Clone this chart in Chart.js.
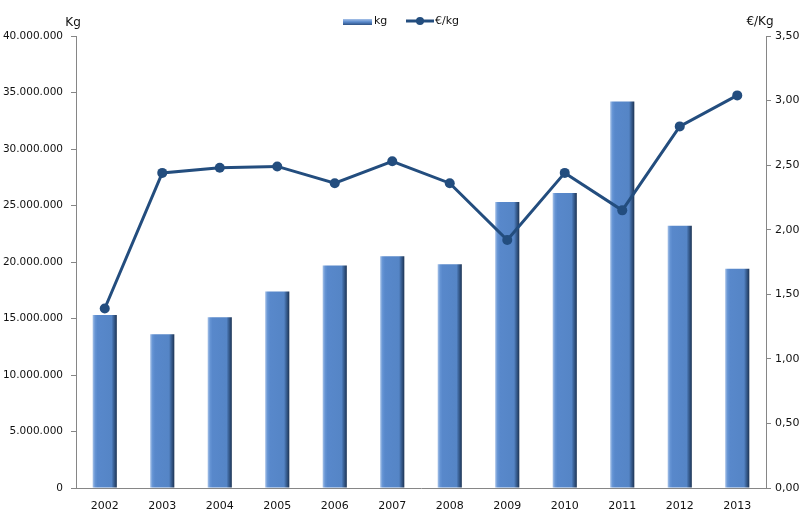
<!DOCTYPE html>
<html>
<head>
<meta charset="utf-8">
<script src="https://cdn.jsdelivr.net/npm/chart.js@4/dist/chart.umd.min.js"></script>
<style>
  html, body { margin: 0; padding: 0; background: #fff; }
  #wrap { width: 802px; height: 528px; position: relative; }
</style>
</head>
<body>
<div id="wrap"><canvas id="c"></canvas></div>
<script>
// data
var years = ['2002', '2003', '2004', '2005', '2006', '2007', '2008', '2009', '2010', '2011', '2012', '2013'];
var kg = [15300000, 13600000, 15100000, 17400000, 19700000, 20500000, 19800000, 25300000, 26100000, 34200000, 23200000, 19400000];
var euroPerKg = [1.39, 2.44, 2.48, 2.49, 2.36, 2.53, 2.36, 1.92, 2.44, 2.15, 2.80, 3.04];

var FONT = 'DejaVu Sans';
var LINE_COLOR = '#234d7e';
var AXIS_COLOR = '#868686';
var CAT_PCT = 0.5, BAR_PCT = 0.84;

function thousands(v) {
    return String(Math.round(v)).replace(/\B(?=(\d{3})+(?!\d))/g, '.');
}

function barFill(ctx) {
    var chart = ctx.chart;
    var xs = chart.scales && chart.scales.x;
    if (!xs || !isFinite(xs.width) || ctx.dataIndex === undefined) return '#5586c8';
    var cx = xs.getPixelForValue(ctx.dataIndex);
    var w = CAT_PCT * BAR_PCT * xs.width / years.length;
    if (!isFinite(cx)) return '#5586c8';
    var g = chart.ctx.createLinearGradient(cx - w / 2, 0, cx + w / 2, 0);
    g.addColorStop(0, '#a7c2e8');
    g.addColorStop(0.1, '#6594d4');
    g.addColorStop(0.2, '#5888cb');
    g.addColorStop(0.78, '#5585c6');
    g.addColorStop(0.86, '#3d659b');
    g.addColorStop(1, '#1d3454');
    return g;
}

// axis titles and legend
var decor = {
    id: 'decor',
    afterDraw: function (chart) {
        var c = chart.ctx;
        c.save();
        c.fillStyle = '#111';
        c.textBaseline = 'middle';
        c.font = '12px ' + FONT;
        c.textAlign = 'center';
        c.fillText('Kg', 73, 23);
        c.fillText('€/Kg', 760, 22);

        c.font = '11px ' + FONT;
        c.textAlign = 'left';
        var g = c.createLinearGradient(0, 19, 0, 25);
        g.addColorStop(0, '#a7c2e8');
        g.addColorStop(0.5, '#5888cb');
        g.addColorStop(1, '#2f5283');
        c.fillStyle = g;
        c.fillRect(343, 19, 29, 6);
        c.fillStyle = '#111';
        c.fillText('kg', 374, 21);

        c.strokeStyle = LINE_COLOR;
        c.lineWidth = 3;
        c.beginPath();
        c.moveTo(406, 21);
        c.lineTo(434, 21);
        c.stroke();
        c.fillStyle = LINE_COLOR;
        c.beginPath();
        c.arc(420, 21, 4, 0, Math.PI * 2);
        c.fill();
        c.fillStyle = '#111';
        c.fillText('€/kg', 435, 21);
        c.restore();
    }
};

new Chart(document.getElementById('c'), {
    data: {
        labels: years,
        datasets: [
            {
                type: 'line',
                label: '€/kg',
                data: euroPerKg,
                yAxisID: 'y1',
                borderColor: LINE_COLOR,
                backgroundColor: LINE_COLOR,
                borderWidth: 3,
                pointRadius: 5,
                pointBackgroundColor: LINE_COLOR,
                pointBorderWidth: 0,
                tension: 0,
                order: 0
            },
            {
                type: 'bar',
                label: 'kg',
                data: kg,
                yAxisID: 'y',
                backgroundColor: barFill,
                borderWidth: 0,
                categoryPercentage: CAT_PCT,
                barPercentage: BAR_PCT,
                order: 1
            }
        ]
    },
    options: {
        responsive: true,
        maintainAspectRatio: false,
        animation: false,
        layout: { padding: { top: 36, left: 0, right: 0, bottom: 0 } },
        plugins: { legend: { display: false }, tooltip: { enabled: false } },
        scales: {
            x: {
                grid: { display: false },
                border: { display: true, color: AXIS_COLOR, width: 1 },
                ticks: { color: '#111', font: { family: FONT, size: 11 }, padding: 4 },
                afterFit: function (s) { s.height = 40; }
            },
            y: {
                position: 'left',
                min: 0,
                max: 40000000,
                grid: { display: true, drawOnChartArea: false, drawTicks: true, tickLength: 5, color: AXIS_COLOR },
                border: { display: true, color: AXIS_COLOR, width: 1 },
                ticks: {
                    stepSize: 5000000,
                    color: '#111',
                    font: { family: FONT, size: 10.5 },
                    padding: 8,
                    callback: function (v) { return thousands(v); }
                },
                afterFit: function (s) { s.width = 76; }
            },
            y1: {
                position: 'right',
                min: 0,
                max: 3.5,
                grid: { display: true, drawOnChartArea: false, drawTicks: true, tickLength: 5, color: AXIS_COLOR },
                border: { display: true, color: AXIS_COLOR, width: 1 },
                ticks: {
                    stepSize: 0.5,
                    color: '#111',
                    font: { family: FONT, size: 11 },
                    padding: 4,
                    callback: function (v) { return v.toFixed(2).replace('.', ','); }
                },
                afterFit: function (s) { s.width = 36; }
            }
        }
    },
    plugins: [decor]
});
</script>
</body>
</html>
